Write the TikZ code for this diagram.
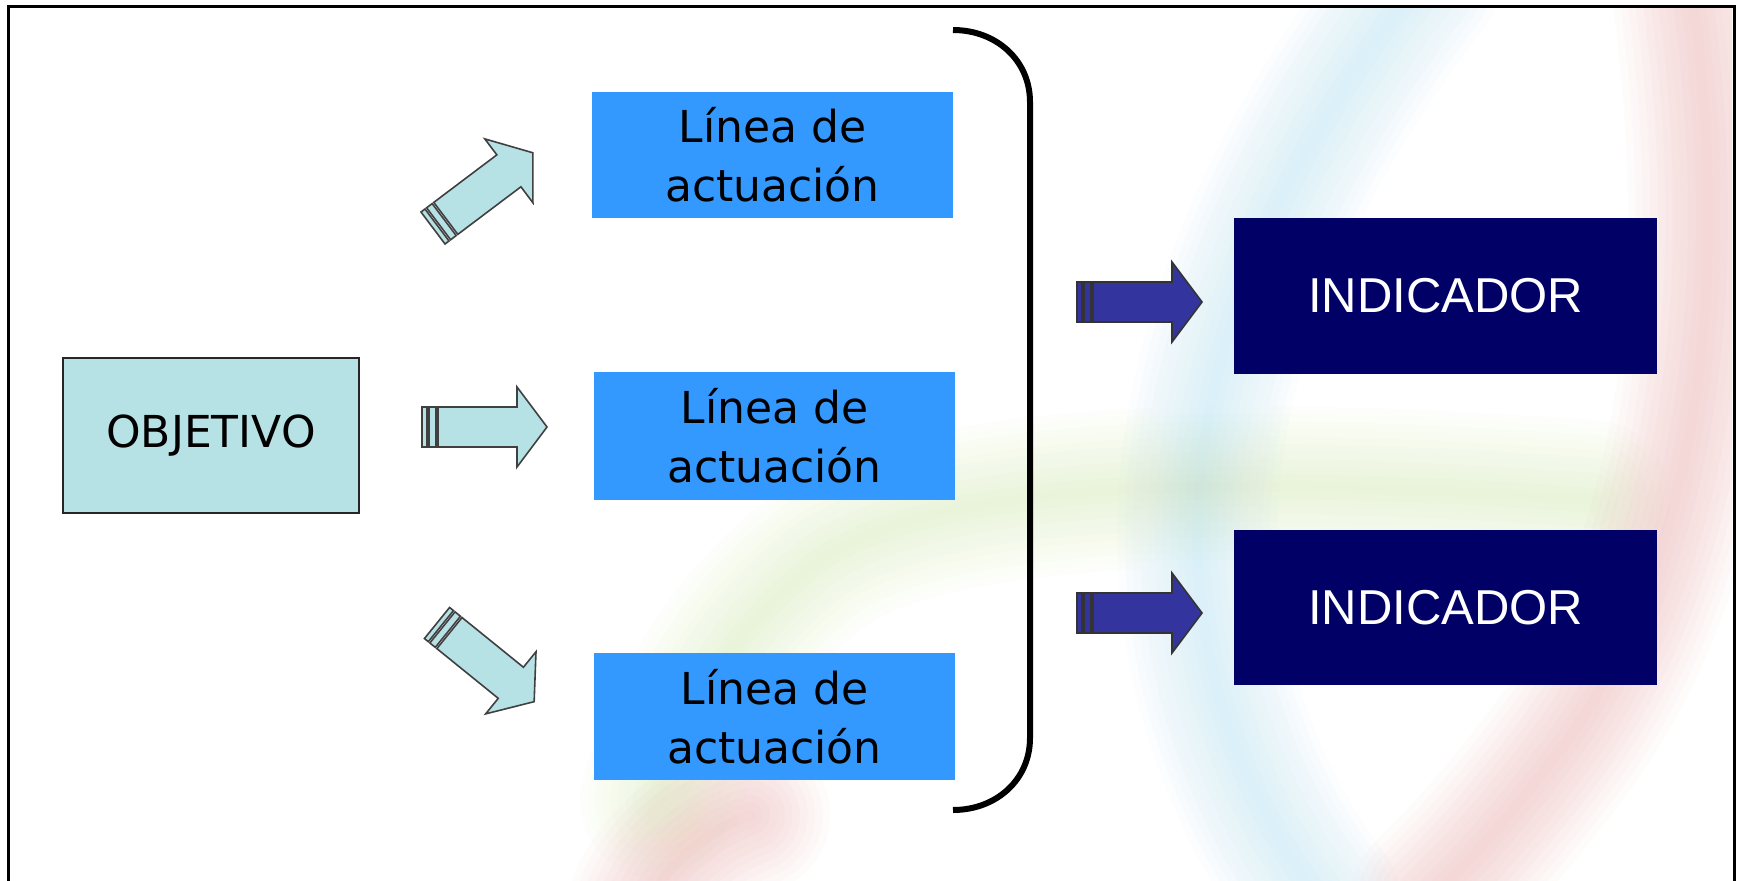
\documentclass[tikz,border=0pt]{standalone}
\usepackage{fontspec}
\newfontfamily\dv{DejaVu Sans}
\newfontfamily\lib{Liberation Sans}
\definecolor{lightcy}{HTML}{B6E1E5}
\definecolor{midblue}{HTML}{3399FF}
\definecolor{navy}{HTML}{000066}
\definecolor{arrdark}{HTML}{34349E}
\definecolor{wmblue}{HTML}{A0DCF8}
\definecolor{wmred}{HTML}{F09090}
\definecolor{wmgreen}{HTML}{CFE6A0}
\tikzset{
  lightarrow/.style={fill=lightcy, draw=black!75, line width=1.6pt, line join=miter},
  darkarrow/.style={fill=arrdark, draw=black!80, line width=1.6pt, line join=miter},
  objbox/.style={fill=lightcy, draw=black!85, line width=2pt, inner sep=0pt},
  linbox/.style={fill=midblue, draw=none, inner sep=0pt, align=center,
     font=\dv\fontsize{44}{59}\selectfont},
  indbox/.style={fill=navy, draw=none, inner sep=0pt, text=white,
     font=\lib\fontsize{49}{59}\selectfont},
  wm/.style={line cap=round, opacity=0.035},
  pics/blockarrow/.style={code={
    \path[pic actions] (0,-20) rectangle (5,20);
    \path[pic actions] (7,-20) rectangle (14,20);
    \path[pic actions] (16,-20) -- (95,-20) -- (95,-40) -- (125,0) -- (95,40) -- (95,20) -- (16,20) -- cycle;
  }}
}
\begin{document}
\begin{tikzpicture}[x=1pt,y=-1pt]
\useasboundingbox (0,0) rectangle (1738,881);
\fill[white] (0,0) rectangle (1738,881);
% faint watermark
\begin{scope}
\clip (10,8) rectangle (1732,881);
\foreach \w in {160,145,...,10}{
  \draw[wm, wmblue, line width=\w pt] (1420,-20) .. controls (1250,200) and (1150,450) .. (1220,700) .. controls (1250,800) and (1290,860) .. (1320,900);
  \draw[wm, wmred, line width=\w pt] (1690,-20) .. controls (1730,250) and (1710,550) .. (1560,750) .. controls (1500,830) and (1460,870) .. (1430,900);
  \draw[wm, wmred, line width=\w pt] (650,900) .. controls (670,860) and (710,830) .. (750,815);
  \draw[wm, wmgreen, line width=\w pt] (1590,500) .. controls (1300,480) and (950,470) .. (820,560) .. controls (740,620) and (690,700) .. (660,800);
}
\end{scope}
% frame
\draw[line width=3.5pt, black] (8.5,881) -- (8.5,6.5) -- (1734.5,6.5) -- (1734.5,881);
% boxes
\node[objbox, minimum width=296pt, minimum height=155pt, font=\dv\fontsize{44}{59}\selectfont] (obj) at (211,435.5) {OBJETIVO};
\node[linbox, minimum width=361pt, minimum height=126pt] (l1) at (772.5,155) {Línea de\\actuación};
\node[linbox, minimum width=361pt, minimum height=128pt] (l2) at (774.5,436) {Línea de\\actuación};
\node[linbox, minimum width=361pt, minimum height=127pt] (l3) at (774.5,716.5) {Línea de\\actuación};
\node[indbox, minimum width=423pt, minimum height=156pt] (i1) at (1445.5,296) {INDICADOR};
\node[indbox, minimum width=423pt, minimum height=155pt] (i2) at (1445.5,607.5) {INDICADOR};
% brace
\coordinate (bt) at (953,30);
\coordinate (bb) at (953,810);
\draw[line width=6pt, black] (bt) .. controls (996,30) and (1030,60) .. (1030,102) -- (1030,738) .. controls (1030,780) and (996,810) .. (bb);
% block arrows
\pic[lightarrow, shift={(433,228)}, rotate=37] {blockarrow};
\pic[lightarrow, shift={(422,427)}] {blockarrow};
\pic[lightarrow, shift={(437,623)}, rotate=-39] {blockarrow};
\pic[darkarrow, shift={(1077,302)}] {blockarrow};
\pic[darkarrow, shift={(1077,613)}] {blockarrow};
\end{tikzpicture}
\end{document}
